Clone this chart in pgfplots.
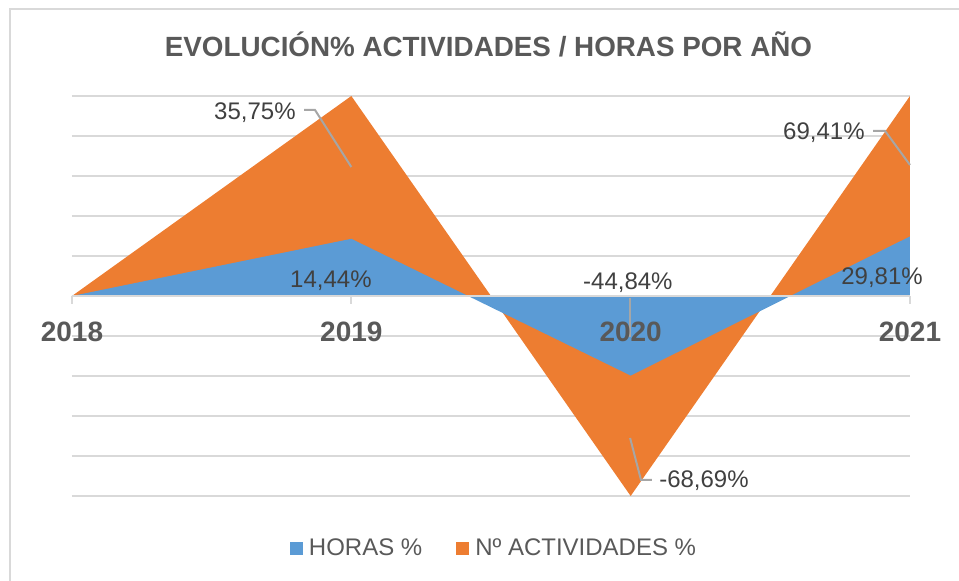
\documentclass[border=0pt]{standalone}
\usepackage{pgfplots}
\pgfplotsset{compat=1.18}
\usepackage{fontspec}
\setmainfont{Liberation Sans}
\definecolor{cOrange}{HTML}{ED7D31}
\definecolor{cBlue}{HTML}{5B9BD5}
\definecolor{cText}{HTML}{595959}
\definecolor{cLabel}{HTML}{404040}
\definecolor{cGrid}{HTML}{D9D9D9}
\definecolor{cLeader}{HTML}{A6A6A6}
\pgfplotsset{
  base/.style={
    at={(0pt,0pt)}, anchor=south west,
    scale only axis, width=419pt, height=200pt,
    xmin=0, xmax=3, ymin=-50, ymax=50,
    axis x line=middle, axis y line=left,
    hide obscured x ticks=false,
    y axis line style={draw=none},
    xtick={0,1,2,3},
    ytick={-50,-40,...,50}, yticklabels={}, ytick style={draw=none},
    tick align=outside, major tick length=4pt,
    clip=false,
  },
}
\begin{document}
\begin{tikzpicture}
\begin{axis}[
  base,
  x axis line style={-, draw=cGrid, line width=1pt},
  xticklabels={},
  ymajorgrids, grid style={cGrid, line width=1pt},
  xtick style={cGrid, line width=1pt},
  legend columns=2,
  legend image code/.code={\fill[#1] (2pt,-3.25pt) rectangle (8.5pt,3.25pt);},
  legend style={draw=none, fill=none, at={(0.5048,-0.1325)}, anchor=center,
    font=\fontsize{12}{14}\selectfont, text=cText,
    /tikz/every odd column/.append style={column sep=1pt},
    /tikz/every even column/.append style={column sep=15pt}},
]
\addlegendimage{fill=cBlue, draw=none}
\addlegendentry{HORAS \%}
\addlegendimage{fill=cOrange, draw=none}
\addlegendentry{Nº ACTIVIDADES \%}

% Nº ACTIVIDADES % (drawn behind)
\addplot[draw=none, fill=cOrange, forget plot] coordinates {(0,0) (1,50) (2,-50) (3,50)} \closedcycle;
% HORAS %
\addplot[draw=none, fill=cBlue, forget plot] coordinates {(0,0) (1,14.3) (2,-19.9) (3,14.9)} \closedcycle;

\draw[cGrid, line width=1pt] (axis cs:0,0) -- (axis cs:3,0);

% leader lines
\draw[cLeader, line width=1pt] (axis cs:0.831,46.5) -- (axis cs:0.870,46.5) -- (axis cs:1.0,32.25);
\draw[cLeader, line width=1pt] (axis cs:1.998,-0.5) -- (axis cs:1.998,-10.25);
\draw[cLeader, line width=1pt] (axis cs:1.998,-35.5) -- (axis cs:2.037,-46) -- (axis cs:2.076,-46);
\draw[cLeader, line width=1pt] (axis cs:2.868,41.25) -- (axis cs:2.911,41.25) -- (axis cs:3.0,32.75);

% data labels
\begin{scope}[every node/.style={font=\fontsize{12}{14}\selectfont, text=cLabel, inner sep=0pt}]
\node[anchor=base east] at (axis cs:0.802,44) {35,75\%};
\node[anchor=base] at (axis cs:0.927,2) {14,44\%};
\node[anchor=base] at (axis cs:1.99,1.5) {-44,84\%};
\node[anchor=base west] at (axis cs:2.101,-48) {-68,69\%};
\node[anchor=base east] at (axis cs:2.839,39) {69,41\%};
\node[anchor=base] at (axis cs:2.900,2.75) {29,81\%};
\end{scope}
\end{axis}
% category labels on top of the areas
\begin{axis}[
  base,
  x axis line style={draw=none},
  xtick style={draw=none},
  xticklabels={2018,2019,2020,2021},
  xticklabel style={font=\fontsize{14}{16}\selectfont\bfseries, text=cText, anchor=base, yshift=-19pt},
]
\end{axis}
\node[anchor=base, font=\fontsize{13.9}{16}\selectfont\bfseries, text=cText] at (208.25pt,219.5pt) {EVOLUCIÓN\% ACTIVIDADES / HORAS POR AÑO};
\draw[cGrid, line width=1pt] (-31pt,-42.5pt) -- (-31pt,243.5pt) -- (443.5pt,243.5pt);
\pgfresetboundingbox
\path[use as bounding box] (-36pt,-42.5pt) rectangle (443.5pt,248pt);
\end{tikzpicture}
\end{document}
